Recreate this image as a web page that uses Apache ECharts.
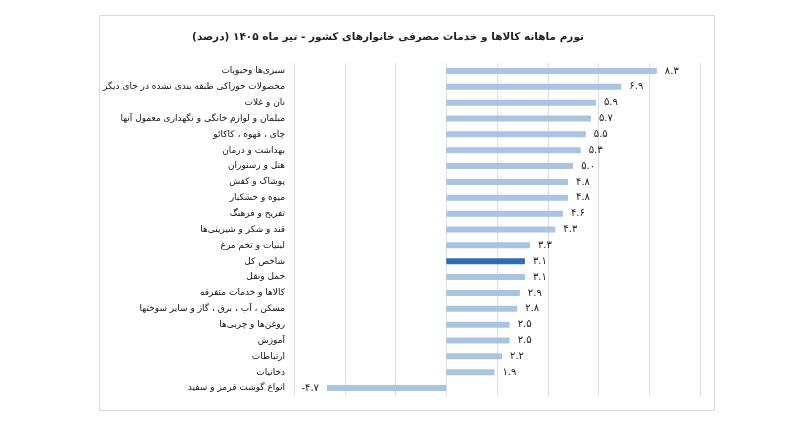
<!DOCTYPE html>
<html lang="fa">
<head>
    <meta charset="UTF-8">
    <title>تورم ماهانه کالاها و خدمات مصرفی</title>
    <style>
        html, body { margin: 0; padding: 0; background: #fff; }
        #chart { width: 800px; height: 431px; }
    </style>
</head>
<body>
<div id="chart"></div>
<script src="https://cdn.jsdelivr.net/npm/echarts@6/dist/echarts.min.js"></script>
<script type="text/javascript">
    var titleText = 'تورم ماهانه کالاها و خدمات مصرفی خانوارهای کشور - تیر ماه ۱۴۰۵ (درصد)';

    var categories = [
        'سبزی‌ها وحبوبات',
        'محصولات خوراکی طبقه بندی نشده در جای دیگر',
        'نان و غلات',
        'مبلمان و لوازم خانگی و نگهداری معمول آنها',
        'چای ، قهوه ، کاکائو',
        'بهداشت و درمان',
        'هتل و رستوران',
        'پوشاک و کفش',
        'میوه و خشکبار',
        'تفریح و فرهنگ',
        'قند و شکر و شیرینی‌ها',
        'لبنیات و تخم مرغ',
        'شاخص کل',
        'حمل ونقل',
        'کالاها و خدمات متفرقه',
        'مسکن ، آب ، برق ، گاز و سایر سوختها',
        'روغن‌ها و چربی‌ها',
        'آموزش',
        'ارتباطات',
        'دخانیات',
        'انواع گوشت قرمز و سفید'
    ];
    var values = [8.3, 6.9, 5.9, 5.7, 5.5, 5.3, 5.0, 4.8, 4.8, 4.6, 4.3, 3.3, 3.1, 3.1, 2.9, 2.8, 2.5, 2.5, 2.2, 1.9, -4.7];
    var highlightName = 'شاخص کل';

    var faDigits = ['۰', '۱', '۲', '۳', '۴', '۵', '۶', '۷', '۸', '۹'];
    function toFa(v) {
        return v.toFixed(1).replace(/[0-9]/g, function (d) { return faDigits[+d]; });
    }

    var seriesData = categories.map(function (name, i) {
        var v = values[i];
        return {
            value: v,
            itemStyle: { color: name === highlightName ? '#2e6db4' : '#a9c3e3' },
            label: { position: v < 0 ? 'left' : 'right' }
        };
    });

    var mChart = echarts.init(document.getElementById('chart'));
    mChart.setOption({
        animation: false,
        textStyle: { fontFamily: 'DejaVu Sans' },
        title: {
            text: titleText,
            left: 383,
            textAlign: 'center',
            top: 27,
            textStyle: { fontSize: 10.5, fontWeight: 'bold', color: '#222', fontFamily: 'DejaVu Sans' }
        },
        graphic: [{
            type: 'rect',
            shape: { x: 99.5, y: 15.5, width: 615, height: 395 },
            style: { fill: 'none', stroke: '#d9d9d9', lineWidth: 1 },
            silent: true
        }],
        grid: { left: 294, right: 100, top: 63, bottom: 35 },
        xAxis: {
            type: 'value',
            min: -6,
            max: 10,
            interval: 2,
            axisLabel: { show: false },
            axisLine: { show: false },
            axisTick: { show: false },
            splitLine: { lineStyle: { color: '#dcdcdc' } }
        },
        yAxis: {
            type: 'category',
            inverse: true,
            data: categories,
            axisLine: { show: false },
            axisTick: { show: false },
            axisLabel: { margin: 9, fontSize: 9, color: '#111', fontFamily: 'DejaVu Sans' }
        },
        series: [{
            type: 'bar',
            barWidth: 6,
            data: seriesData,
            label: {
                show: true,
                distance: 8,
                fontSize: 10,
                color: '#222',
                formatter: function (p) { return toFa(p.value); }
            }
        }]
    });
</script>
</body>
</html>
